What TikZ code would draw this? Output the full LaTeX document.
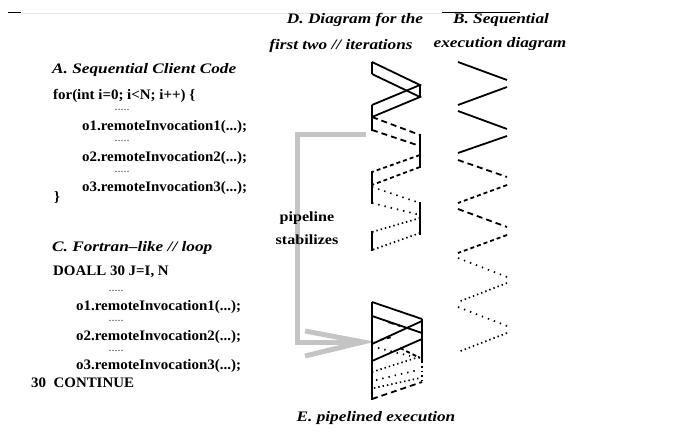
\documentclass[tikz,border=0pt]{standalone}
\usepackage{fontspec}
\setmainfont{Liberation Serif}
\newfontfamily\ttlfont[FakeStretch=1.19]{Liberation Serif}
\newfontfamily\codefont[FakeStretch=1.03]{Liberation Serif}
\newfontfamily\lblfont[FakeStretch=1.15]{Liberation Serif}
\definecolor{rulegray}{RGB}{230,230,230}
\definecolor{arrowgray}{RGB}{196,196,196}
\definecolor{dotgray}{RGB}{70,70,70}
\begin{document}
\begin{tikzpicture}[x=1pt,y=-1pt,
  ttl/.style={font=\ttlfont\fontsize{14.5}{16}\selectfont\bfseries\itshape, inner sep=0pt},
  code/.style={font=\codefont\fontsize{14.5}{16}\selectfont\bfseries, inner sep=0pt, anchor=base west},
  dotsrow/.style={font=\fontsize{12}{13}\selectfont, text=dotgray, inner sep=0pt, anchor=base},
  lbl/.style={font=\lblfont\fontsize{14}{15}\selectfont\bfseries, inner sep=0pt},
  sol/.style={line width=1.8pt},
  dshA/.style={line width=1.8pt, dash pattern=on 6pt off 4pt},
  dshB/.style={line width=1.8pt, dash pattern=on 4pt off 3pt},
  dotA/.style={line width=1.7pt, dash pattern=on 1.4pt off 5pt},
  dotB/.style={line width=1.7pt, dash pattern=on 1.4pt off 3pt},
  wait/.style={line width=1.3pt},
  grayarrow/.style={line width=5pt, draw=arrowgray}
]
\useasboundingbox (0,0) rectangle (683,433);

% top rule
\draw[line width=0.6pt, rulegray] (21,13) -- (442,13);
\draw[line width=1pt] (8,13) -- (21,13);
\draw[line width=1pt] (442,13) -- (520,13);

% gray arrow (behind the label)
\coordinate (gs) at (366,135);
\coordinate (gt) at (363,342);
\draw[grayarrow] (gs) -- (297,135) -- (297,342) -- (gt);
\draw[grayarrow, line join=miter] (305,331) -- (gt) -- (305,356);

% titles
\node[ttl, anchor=base] (dt1) at (355,24) {D. Diagram for the};
\node[ttl, anchor=base] (dt2) at (341,50) {first two // iterations};
\node[ttl, anchor=base] (bt1) at (501,24) {B. Sequential};
\node[ttl, anchor=base] (bt2) at (500,48) {execution diagram};
\node[ttl, anchor=base] (et) at (376,421) {E. pipelined execution};

% A code
\node[ttl, anchor=base west] (at) at (52,74) {A. Sequential Client Code};
\node[code] (a1) at (53,100) {for(int i=0; i<N; i++) \{};
\node[dotsrow] (ad1) at (122,111) {.....};
\node[code] (a2) at (82,131) {o1.remoteInvocation1(...);};
\node[dotsrow] (ad2) at (122,142) {.....};
\node[code] (a3) at (82,161) {o2.remoteInvocation2(...);};
\node[dotsrow] (ad3) at (122,172) {.....};
\node[code] (a4) at (82,191) {o3.remoteInvocation3(...);};
\node[code] (a5) at (54,201) {\}};

% C code
\node[ttl, anchor=base west] (ct) at (52,251) {C. Fortran{\textendash}like // loop};
\node[code] (c1) at (53,275) {DOALL 30 J=I, N};
\node[dotsrow] (cd1) at (116,291) {.....};
\node[code] (c2) at (76,310) {o1.remoteInvocation1(...);};
\node[dotsrow] (cd2) at (116,321.5) {.....};
\node[code] (c3) at (76,340) {o2.remoteInvocation2(...);};
\node[dotsrow] (cd3) at (116,351.5) {.....};
\node[code] (c4) at (76,369) {o3.remoteInvocation3(...);};
\node[code] (c5) at (31,387) {30\ \ CONTINUE};

% pipeline label
\node[lbl] (pl1) at (307,218) {pipeline};
\node[lbl] (pl2) at (307,240) {stabilizes};

% D diagram: iteration 1 and 2
\draw[sol] (372,62) -- (372,74);
\draw[sol] (372,62) -- (420,85) -- (372,105);
\draw[sol] (372,74) -- (420,97) -- (372,117);
\draw[sol] (420,85) -- (420,97);
\draw[wait] (372,105) -- (372,131);
\draw[dshA] (372,117) -- (420,135);
\draw[dshA] (372,130) -- (420,146);
\draw[wait] (420,134) -- (420,168);
\draw[dshB] (420,155) -- (372,172);
\draw[dshB] (420,167) -- (372,185);
\draw[wait] (372,171) -- (372,204);
\draw[dotA] (372,187) -- (420,203);
\draw[dotA] (372,203) -- (420,215);
\draw[wait] (420,202) -- (420,235);
\draw[dotB] (420,218) -- (372,232);
\draw[dotB] (420,233) -- (372,250);
\draw[wait] (372,231) -- (372,251);

% B diagram
\draw[sol] (458,62) -- (507,80);
\draw[sol] (507,87) -- (458,105);
\draw[sol] (458,111) -- (507,129);
\draw[sol] (507,136) -- (458,153);
\draw[dshA] (458,160) -- (507,177);
\draw[dshB] (507,185) -- (458,203);
\draw[dshA] (458,209) -- (507,227);
\draw[dshB] (507,235) -- (458,253);
\draw[dotA] (458,258) -- (507,277);
\draw[dotB] (507,283) -- (458,302);
\draw[dotA] (458,307) -- (507,326);
\draw[dotB] (507,333) -- (458,352);

% E diagram
\draw[sol] (372,302) -- (372,400);
\draw[sol] (422,319) -- (422,362);
\draw[dotB] (422,362) -- (422,383);
\draw[sol] (372,302) -- (422,319);
\draw[sol] (372,316) -- (422,333);
\draw[sol] (422,321) -- (372,344);
\draw[sol] (422,339) -- (372,361);
\draw[dshA] (388,322) -- (400,326);
\draw[dshB] (380,340) -- (392,337);
\draw[dotA] (378,348) -- (410,356);
\draw[dshB] (400,348) -- (420,358);
\draw[dotB] (372,372) -- (422,356);
\draw[dotA] (376,380) -- (418,370);
\draw[dotB] (374,388) -- (420,378);
\draw[dshA] (372,399) -- (422,382);
\end{tikzpicture}
\end{document}
